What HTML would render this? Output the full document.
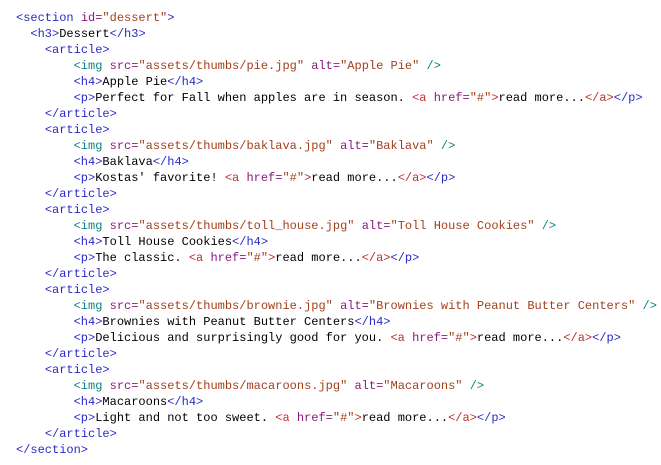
<!DOCTYPE html>
<html><head><meta charset="utf-8"><style>
html,body{margin:0;padding:0;background:#fff;width:661px;height:465px;overflow:hidden;position:relative}
pre{margin:0;position:absolute;left:16px;top:10px;font-family:"Liberation Mono",monospace;font-size:12px;line-height:16.02px;color:#000;white-space:pre}
.t{color:#2a2ac8}.n{color:#8a1a7e}.v{color:#a3401c}.i{color:#0f8080}.a{color:#c0302a}
</style></head><body><pre><span class="t">&lt;section</span> <span class="n">id=</span><span class="v">"dessert"</span><span class="t">&gt;</span>
  <span class="t">&lt;h3&gt;</span>Dessert<span class="t">&lt;/h3&gt;</span>
    <span class="t">&lt;article&gt;</span>
        <span class="i">&lt;img</span> <span class="n">src=</span><span class="v">"assets/thumbs/pie.jpg"</span> <span class="n">alt=</span><span class="v">"Apple Pie"</span> <span class="i">/&gt;</span>
        <span class="t">&lt;h4&gt;</span>Apple Pie<span class="t">&lt;/h4&gt;</span>
        <span class="t">&lt;p&gt;</span>Perfect for Fall when apples are in season. <span class="a">&lt;a</span> <span class="n">href=</span><span class="v">"#"</span><span class="a">&gt;</span>read more...<span class="a">&lt;/a&gt;</span><span class="t">&lt;/p&gt;</span>
    <span class="t">&lt;/article&gt;</span>
    <span class="t">&lt;article&gt;</span>
        <span class="i">&lt;img</span> <span class="n">src=</span><span class="v">"assets/thumbs/baklava.jpg"</span> <span class="n">alt=</span><span class="v">"Baklava"</span> <span class="i">/&gt;</span>
        <span class="t">&lt;h4&gt;</span>Baklava<span class="t">&lt;/h4&gt;</span>
        <span class="t">&lt;p&gt;</span>Kostas' favorite! <span class="a">&lt;a</span> <span class="n">href=</span><span class="v">"#"</span><span class="a">&gt;</span>read more...<span class="a">&lt;/a&gt;</span><span class="t">&lt;/p&gt;</span>
    <span class="t">&lt;/article&gt;</span>
    <span class="t">&lt;article&gt;</span>
        <span class="i">&lt;img</span> <span class="n">src=</span><span class="v">"assets/thumbs/toll_house.jpg"</span> <span class="n">alt=</span><span class="v">"Toll House Cookies"</span> <span class="i">/&gt;</span>
        <span class="t">&lt;h4&gt;</span>Toll House Cookies<span class="t">&lt;/h4&gt;</span>
        <span class="t">&lt;p&gt;</span>The classic. <span class="a">&lt;a</span> <span class="n">href=</span><span class="v">"#"</span><span class="a">&gt;</span>read more...<span class="a">&lt;/a&gt;</span><span class="t">&lt;/p&gt;</span>
    <span class="t">&lt;/article&gt;</span>
    <span class="t">&lt;article&gt;</span>
        <span class="i">&lt;img</span> <span class="n">src=</span><span class="v">"assets/thumbs/brownie.jpg"</span> <span class="n">alt=</span><span class="v">"Brownies with Peanut Butter Centers"</span> <span class="i">/&gt;</span>
        <span class="t">&lt;h4&gt;</span>Brownies with Peanut Butter Centers<span class="t">&lt;/h4&gt;</span>
        <span class="t">&lt;p&gt;</span>Delicious and surprisingly good for you. <span class="a">&lt;a</span> <span class="n">href=</span><span class="v">"#"</span><span class="a">&gt;</span>read more...<span class="a">&lt;/a&gt;</span><span class="t">&lt;/p&gt;</span>
    <span class="t">&lt;/article&gt;</span>
    <span class="t">&lt;article&gt;</span>
        <span class="i">&lt;img</span> <span class="n">src=</span><span class="v">"assets/thumbs/macaroons.jpg"</span> <span class="n">alt=</span><span class="v">"Macaroons"</span> <span class="i">/&gt;</span>
        <span class="t">&lt;h4&gt;</span>Macaroons<span class="t">&lt;/h4&gt;</span>
        <span class="t">&lt;p&gt;</span>Light and not too sweet. <span class="a">&lt;a</span> <span class="n">href=</span><span class="v">"#"</span><span class="a">&gt;</span>read more...<span class="a">&lt;/a&gt;</span><span class="t">&lt;/p&gt;</span>
    <span class="t">&lt;/article&gt;</span>
<span class="t">&lt;/section&gt;</span></pre></body></html>
